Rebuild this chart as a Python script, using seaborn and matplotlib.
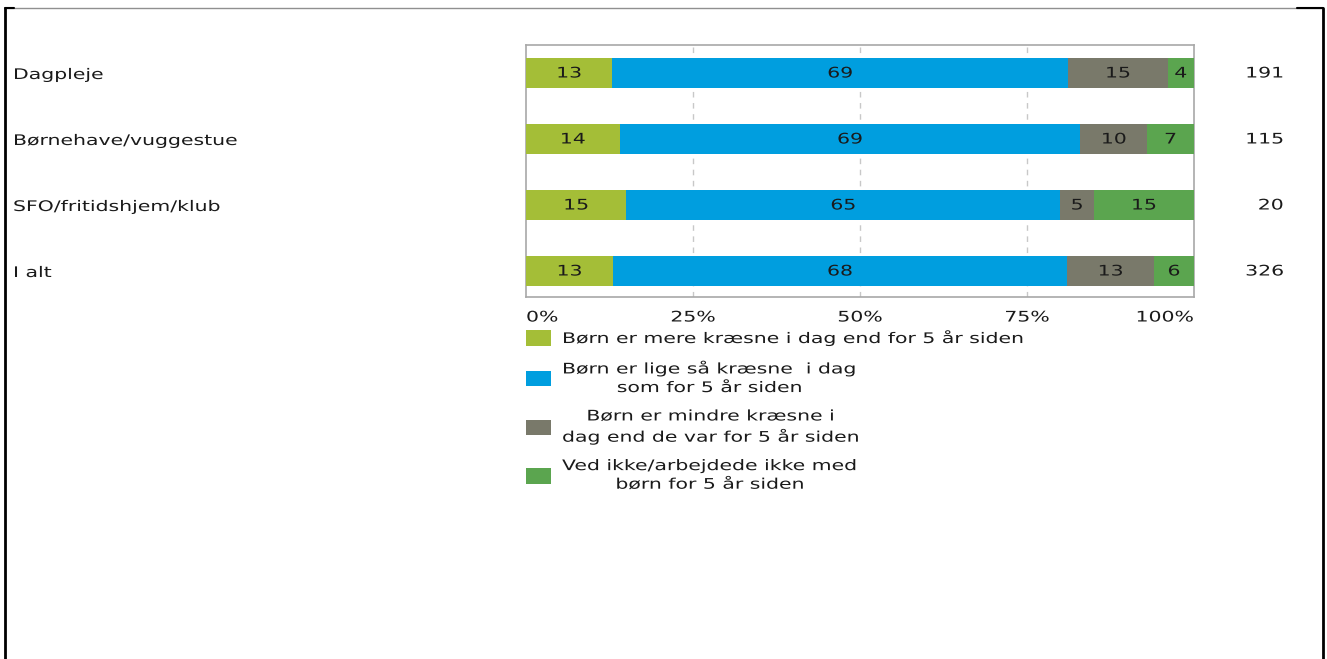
import numpy as np
import pandas as pd
import matplotlib
matplotlib.use("Agg")
import matplotlib.pyplot as plt
from matplotlib.lines import Line2D
from matplotlib.patches import Patch
from matplotlib.patheffects import AbstractPathEffect
from matplotlib.transforms import Affine2D
import seaborn as sns

# data
categories = ["Dagpleje", "Børnehave/vuggestue", "SFO/fritidshjem/klub", "I alt"]
mere = [13, 14, 15, 13]
lige = [69, 69, 65, 68]
mindre = [15, 10, 5, 13]
ved_ikke = [4, 7, 15, 6]
n_values = [191, 115, 20, 326]

series_labels = [
    "Børn er mere kræsne i dag end for 5 år siden",
    "Børn er lige så kræsne  i dag\nsom for 5 år siden",
    "Børn er mindre kræsne i\ndag end de var for 5 år siden",
    "Ved ikke/arbejdede ikke med\nbørn for 5 år siden",
]
colors = ["#A4BE37", "#009EDF", "#79796A", "#5BA54F"]
x_ticks = [0, 25, 50, 75, 100]
x_ticklabels = ["0%", "25%", "50%", "75%", "100%"]

sns.set_style("white")
plt.rcParams["font.family"] = ["DejaVu Sans"]
FS = 10.5
STRETCH = 1.40  # the reference text is drawn wide (Verdana-like)


class HStretch(AbstractPathEffect):
    """Widen glyphs horizontally around a fixed display x."""
    def __init__(self, sx, x_anchor):
        super().__init__()
        self.sx = sx
        self.x_anchor = x_anchor

    def draw_path(self, renderer, gc, tpath, affine, rgbFace=None):
        extra = (Affine2D().translate(-self.x_anchor, 0)
                 .scale(self.sx, 1).translate(self.x_anchor, 0))
        renderer.draw_path(gc, tpath, affine + extra, rgbFace)


df = pd.DataFrame({"category": categories, "mere": mere, "lige": lige,
                   "mindre": mindre, "ved_ikke": ved_ikke})
cols = ["mere", "lige", "mindre", "ved_ikke"]
totals = df[cols].sum(axis=1)
shares = df[cols].div(totals, axis=0) * 100
cum = shares.cumsum(axis=1)
for c in cols:
    df["cum_" + c] = cum[c]

W, H = 1327, 659
fig = plt.figure(figsize=(W / 100, H / 100), dpi=100)
ax = fig.add_axes([526 / W, 1 - 297 / H, (1194 - 526) / W, (297 - 45) / H])

# stacked bars: draw cumulative totals from widest to narrowest
for c, col in reversed(list(zip(cols, colors))):
    sns.barplot(data=df, x="cum_" + c, y="category", color=col, orient="h",
                width=0.455, saturation=1, linewidth=0, ax=ax, zorder=3)

texts = []
# value labels inside segments
for i, cat in enumerate(categories):
    start = 0
    for c in cols:
        w = shares.loc[i, c]
        texts.append(ax.text(start + w / 2, i, str(df.loc[i, c]), ha="center",
                             va="center", fontsize=FS, color="#1a1a1a", zorder=4))
        start += w
    texts.append(ax.text((1284 - 526) / (1194 - 526), i, str(n_values[i]), ha="right",
                         va="center", fontsize=FS, color="#1a1a1a",
                         transform=ax.get_yaxis_transform(), clip_on=False))

ax.set_xlim(0, 100)
ax.set_ylim(3.394, -0.424)
ax.set_xlabel("")
ax.set_ylabel("")
ax.set_xticks(x_ticks)
ax.set_xticklabels(x_ticklabels, fontsize=FS, color="#1a1a1a")
tl = ax.get_xticklabels()
tl[0].set_ha("left")
tl[-1].set_ha("right")
ax.tick_params(axis="x", length=0, pad=9)
ax.tick_params(axis="y", length=0, pad=(526 - 13) * 0.72)
for lab in ax.get_yticklabels():
    lab.set_ha("left")
    lab.set_fontsize(FS)
    lab.set_color("#1a1a1a")

for xv in x_ticks[1:-1]:
    ax.axvline(xv, color="#c8c8c8", lw=1, ls=(0, (4, 4)), zorder=1)
for s in ax.spines.values():
    s.set_color("#a8a8a8")
    s.set_linewidth(1.2)

handles = [Patch(facecolor=c, edgecolor="none") for c in colors]
leg = fig.legend(handles, series_labels, loc="upper left",
                 bbox_to_anchor=(526 / W, 1 - 329 / H), frameon=False,
                 fontsize=FS, handlelength=1.72, handleheight=1.24,
                 handletextpad=0.75, labelspacing=0.92, borderpad=0,
                 borderaxespad=0)
for t in leg.get_texts():
    t.set_multialignment("center")
    t.set_linespacing(1.3)
    t.set_color("#1a1a1a")

# outer frame
def fline(x0, y0, x1, y1, **kw):
    fig.add_artist(Line2D([x0 / W, x1 / W], [1 - y0 / H, 1 - y1 / H],
                          transform=fig.transFigure, **kw))

fline(5, 8, 1323, 8, color="#909090", lw=1)
fline(5, 8, 14, 8, color="black", lw=1.5)
fline(1297, 8, 1323, 8, color="black", lw=1.5)
fline(5, 8, 5, H, color="black", lw=2)
fline(1323, 8, 1323, H, color="black", lw=2)

# widen every text around its alignment point
fig.canvas.draw()
renderer = fig.canvas.get_renderer()
all_texts = texts + list(ax.get_xticklabels()) + list(ax.get_yticklabels()) + list(leg.get_texts())
for t in all_texts:
    bb = t.get_window_extent(renderer)
    ha = t.get_ha()
    anchor = bb.x0 if ha == "left" else (bb.x1 if ha == "right" else (bb.x0 + bb.x1) / 2)
    t.set_path_effects([HStretch(STRETCH, anchor)])

fig.savefig("out.png", dpi=100)
